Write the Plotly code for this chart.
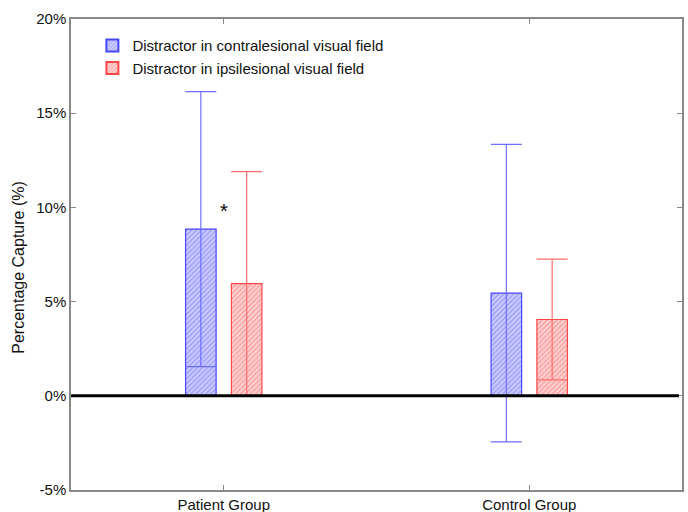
import plotly.graph_objects as go

groups = ["Patient Group", "Control Group"]
contra_mean = [8.85, 5.45]
contra_err = [7.3, 7.9]
ipsi_mean = [5.95, 4.05]
ipsi_err = [5.95, 3.2]
series_names = ["Distractor in contralesional visual field",
                "Distractor in ipsilesional visual field"]
y_tick_vals = [-5, 0, 5, 10, 15, 20]
y_tick_text = ["-5%", "0%", "5%", "10%", "15%", "20%"]
y_title = "Percentage Capture (%)"
star_label = "*"
star_y = 10.0

BLUE = "rgb(70,70,255)"
BLUE_BG = "rgba(205,205,255,1)"
BLUE_ERR = "rgb(110,110,255)"
RED = "rgb(255,70,70)"
RED_BG = "rgba(255,210,210,1)"
RED_ERR = "rgb(255,110,110)"

fig = go.Figure()
fig.add_trace(go.Bar(
    x=groups, y=contra_mean, name=series_names[0],
    width=0.1, offset=-0.125,
    marker=dict(color=BLUE_BG, line=dict(color=BLUE, width=1.2),
                pattern=dict(shape="/", fgcolor=BLUE, bgcolor=BLUE_BG, size=3.5, solidity=0.3)),
    error_y=dict(type="data", array=contra_err, visible=True, color=BLUE_ERR, thickness=1.2, width=15.5),
))
fig.add_trace(go.Bar(
    x=groups, y=ipsi_mean, name=series_names[1],
    width=0.1, offset=0.025,
    marker=dict(color=RED_BG, line=dict(color=RED, width=1.2),
                pattern=dict(shape="/", fgcolor=RED, bgcolor=RED_BG, size=3.5, solidity=0.3)),
    error_y=dict(type="data", array=ipsi_err, visible=True, color=RED_ERR, thickness=1.2, width=15.5),
))

fig.add_annotation(x=groups[0], y=star_y, text=star_label, showarrow=False,
                   font=dict(size=20, color="black", family="Liberation Sans"), yshift=-4)

# y-axis title placed as rotated text (slightly below the axis centre as in the reference)
fig.add_annotation(xref="paper", yref="paper", x=-0.085, y=0.472, text=y_title,
                   textangle=-90, showarrow=False, xanchor="center", yanchor="middle",
                   font=dict(size=16, color="#111"))

fig.add_shape(type="line", xref="paper", yref="y", x0=0, x1=0.995, y0=0, y1=0,
              line=dict(color="black", width=3))

fig.update_layout(
    width=688, height=512,
    margin=dict(l=71, r=6, t=19, b=22),
    plot_bgcolor="white", paper_bgcolor="white",
    barmode="overlay",
    font=dict(family="Liberation Sans, Arial, sans-serif", size=15, color="#111"),
    showlegend=True,
    legend=dict(x=0.035, y=0.978, xanchor="left", yanchor="top",
                bgcolor="rgba(0,0,0,0)", font=dict(size=15, color="#111"),
                itemsizing="constant", tracegroupgap=0),
    xaxis=dict(range=[-0.5, 1.5], showline=True, linecolor="#888", linewidth=1.5,
               mirror="ticks", ticks="inside", ticklen=5, tickcolor="#888",
               showgrid=False, zeroline=False, automargin=False,
               tickfont=dict(size=15, color="#111")),
    yaxis=dict(range=[-5, 20], tickmode="array", tickvals=y_tick_vals, ticktext=y_tick_text,
               showline=True, linecolor="#888",
               linewidth=1.5, mirror="ticks", ticks="inside", ticklen=5, tickcolor="#888",
               showgrid=False, zeroline=False, automargin=False,
               tickfont=dict(size=15, color="#111")),
)

fig.write_html("out.html")
